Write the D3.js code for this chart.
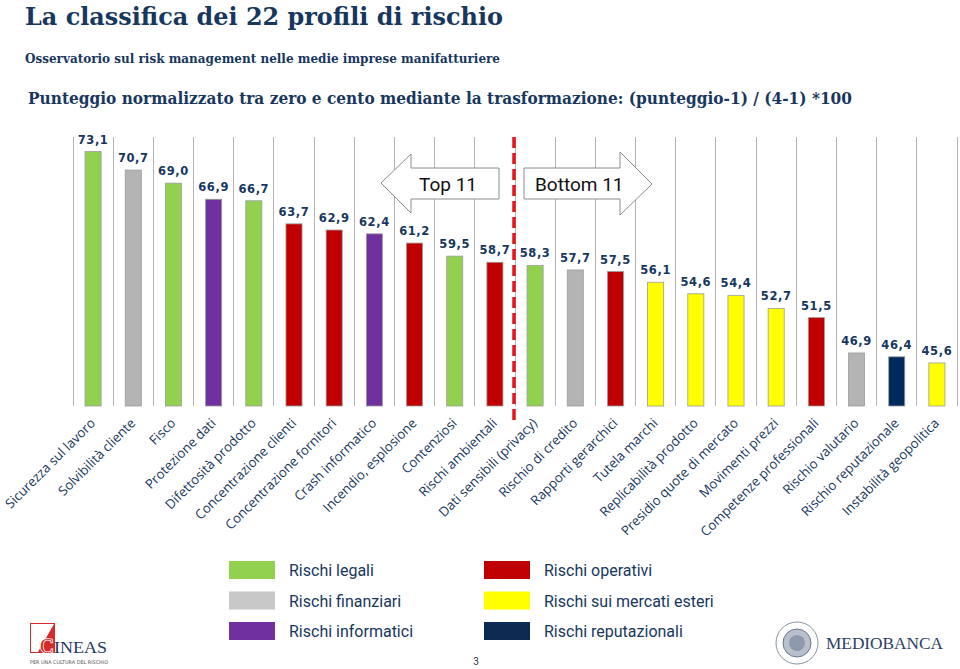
<!DOCTYPE html>
<html><head><meta charset="utf-8">
<script src="https://cdn.jsdelivr.net/npm/d3@7"></script>
<style>
html,body{margin:0;padding:0;background:#fff;}
svg{display:block;}
</style></head>
<body>
<script>
const categories = ["Sicurezza sul lavoro","Solvibilità cliente","Fisco","Protezione dati","Difettosità prodotto","Concentrazione clienti","Concentrazione fornitori","Crash informatico","Incendio, esplosione","Contenziosi","Rischi ambientali","Dati sensibili (privacy)","Rischio di credito","Rapporti gerarchici","Tutela marchi","Replicabilità prodotto","Presidio quote di mercato","Movimenti prezzi","Competenze professionali","Rischio valutario","Rischio reputazionale","Instabilità geopolitica"];
const values = [73.1,70.7,69.0,66.9,66.7,63.7,62.9,62.4,61.2,59.5,58.7,58.3,57.7,57.5,56.1,54.6,54.4,52.7,51.5,46.9,46.4,45.6];
const groups = ["legali","finanziari","legali","informatici","legali","operativi","operativi","informatici","operativi","legali","operativi","legali","finanziari","operativi","esteri","esteri","esteri","esteri","operativi","finanziari","reputazionali","esteri"];
const groupKeys = ["legali","finanziari","informatici","operativi","esteri","reputazionali"];
const groupLabels = ["Rischi legali","Rischi finanziari","Rischi informatici","Rischi operativi","Rischi sui mercati esteri","Rischi reputazionali"];
const groupColors = ["#92d050","#b4b4b4","#7030a0","#c00000","#ffff00","#002a5c"];
const legendColors = ["#92d050","#c8c8c8","#7030a0","#c00000","#ffff00","#0d2a52"];
const topCount = 11;
const yDomain = [40, 75];

const W = 960, H = 669;
const navy = "#17375e";
const svg = d3.select("body").append("svg").attr("width", W).attr("height", H);

// Titles
svg.append("text").attr("x", 25).attr("y", 25)
  .attr("font-family", "'DejaVu Serif', serif").attr("font-weight", "bold")
  .attr("font-size", 24).attr("fill", navy)
  .attr("textLength", 478).attr("lengthAdjust", "spacingAndGlyphs")
  .text("La classifica dei 22 profili di rischio");
svg.append("text").attr("x", 25).attr("y", 63)
  .attr("font-family", "'DejaVu Serif', serif").attr("font-weight", "bold")
  .attr("font-size", 12).attr("fill", navy)
  .attr("textLength", 475).attr("lengthAdjust", "spacingAndGlyphs")
  .text("Osservatorio sul risk management nelle medie imprese manifatturiere");
svg.append("text").attr("x", 28).attr("y", 104)
  .attr("font-family", "'DejaVu Serif', serif").attr("font-weight", "bold")
  .attr("font-size", 16.5).attr("fill", navy)
  .attr("textLength", 824).attr("lengthAdjust", "spacingAndGlyphs")
  .text("Punteggio normalizzato tra zero e cento mediante la trasformazione: (punteggio-1) / (4-1) *100");

// Scales
const xOuter = d3.scaleBand().domain(categories).range([73, 957]).padding(0);
const x = d3.scaleBand().domain(categories).range([73, 957]).paddingInner(0.6).paddingOuter(0.3);
const y = d3.scaleLinear().domain(yDomain).range([406, 137]);
const color = d3.scaleOrdinal().domain(groupKeys).range(groupColors);

// Gridlines at band boundaries
const bounds = categories.map(c => xOuter(c)).concat([xOuter.range()[1]]);
svg.append("g").selectAll("line").data(bounds).join("line")
  .attr("x1", d => d).attr("x2", d => d)
  .attr("y1", y(yDomain[1])).attr("y2", y(yDomain[0]))
  .attr("stroke", "#b3b3b3").attr("stroke-width", 1).attr("shape-rendering", "crispEdges");

const data = categories.map((c, i) => ({c, v: values[i], g: groups[i]}));

// Bars
svg.append("g").selectAll("rect").data(data).join("rect")
  .attr("x", d => x(d.c)).attr("width", x.bandwidth())
  .attr("y", d => y(d.v)).attr("height", d => y(yDomain[0]) - y(d.v))
  .attr("fill", d => color(d.g)).attr("stroke", "#9c9c9c").attr("stroke-width", 0.8);

// Value labels
svg.append("g").selectAll("text").data(data).join("text")
  .attr("x", d => x(d.c) + x.bandwidth() / 2).attr("y", d => y(d.v) - 8)
  .attr("text-anchor", "middle")
  .attr("font-family", "'DejaVu Sans', Verdana, sans-serif").attr("font-weight", "bold")
  .attr("font-size", 11.5).attr("letter-spacing", 0.6).attr("fill", navy)
  .text(d => d3.format(".1f")(d.v).replace(".", ","));

// Category labels
svg.append("g").selectAll("text").data(data).join("text")
  .attr("transform", d => `translate(${x(d.c) + x.bandwidth() / 2 + 3},${424}) rotate(-45)`)
  .attr("text-anchor", "end")
  .attr("font-family", "'Open Sans', sans-serif").attr("font-size", 13.2).attr("fill", navy)
  .text(d => d.c);

// Dashed separator between Top 11 and Bottom 11
const sepX = xOuter(categories[topCount]) - 1;
svg.append("line").attr("x1", sepX).attr("x2", sepX).attr("y1", 137).attr("y2", 421)
  .attr("stroke", "#e8141c").attr("stroke-width", 3.5).attr("stroke-dasharray", "11,5");

// Arrows
const arrowG = svg.append("g");
arrowG.append("polygon")
  .attr("points", [[381,183],[411,154],[411,168],[499,168],[499,199],[411,199],[411,213]].map(p => p.join(",")).join(" "))
  .attr("fill", "#fff").attr("stroke", "#8c8c8c").attr("stroke-width", 1);
arrowG.append("text").attr("x", 448).attr("y", 191).attr("text-anchor", "middle")
  .attr("font-family", "Roboto, sans-serif").attr("font-size", 19).attr("fill", "#111").text("Top 11");
arrowG.append("polygon")
  .attr("points", [[524,168],[620,168],[620,152],[652,184],[620,215],[620,199],[524,199]].map(p => p.join(",")).join(" "))
  .attr("fill", "#fff").attr("stroke", "#8c8c8c").attr("stroke-width", 1);
arrowG.append("text").attr("x", 535).attr("y", 191)
  .attr("font-family", "Roboto, sans-serif").attr("font-size", 19).attr("fill", "#111").text("Bottom 11");

// Legend
const legend = svg.append("g");
groupLabels.forEach((lab, i) => {
  const col = Math.floor(i / 3), row = i % 3;
  const lx = col === 0 ? 229 : 484;
  const ly = 561 + row * 30.5;
  legend.append("rect").attr("x", lx).attr("y", ly).attr("width", 46).attr("height", 18)
    .attr("fill", legendColors[i]);
  legend.append("text").attr("x", lx + 60).attr("y", ly + 15)
    .attr("font-family", "Roboto, sans-serif").attr("font-size", 16).attr("fill", navy)
    .text(lab);
});

// Page number
svg.append("text").attr("x", 476).attr("y", 665).attr("text-anchor", "middle")
  .attr("font-family", "Roboto, sans-serif").attr("font-size", 10).attr("fill", "#333").text("3");

// CINEAS logo
const cin = svg.append("g");
cin.append("rect").attr("x", 30.5).attr("y", 623.5).attr("width", 24).attr("height", 29)
  .attr("fill", "none").attr("stroke", "#d42a2a").attr("stroke-width", 1);
cin.append("polygon").attr("points", "54,624 54,652 38,652").attr("fill", "#d42a2a");
cin.append("text").attr("x", 40).attr("y", 653)
  .attr("font-family", "'Liberation Serif', serif").attr("font-size", 20).attr("fill", "#d42a2a")
  .attr("stroke", "#fff").attr("stroke-width", 1.5).attr("paint-order", "stroke").text("C");
cin.append("text").attr("x", 54).attr("y", 653)
  .attr("font-family", "'Liberation Serif', serif").attr("font-size", 16).attr("fill", "#1f3864")
  .attr("textLength", 53).attr("lengthAdjust", "spacingAndGlyphs").text("INEAS");
cin.append("text").attr("x", 30).attr("y", 664)
  .attr("font-family", "'DejaVu Sans', sans-serif").attr("font-size", 5).attr("fill", "#555")
  .attr("textLength", 78).attr("lengthAdjust", "spacingAndGlyphs").text("PER UNA CULTURA DEL RISCHIO");

// Mediobanca logo
const mb = svg.append("g");
mb.append("circle").attr("cx", 797).attr("cy", 643).attr("r", 21).attr("fill", "none").attr("stroke", "#8a95a8").attr("stroke-width", 1);
mb.append("circle").attr("cx", 797).attr("cy", 643).attr("r", 14).attr("fill", "#b8c0cc").attr("stroke", "#6c7890").attr("stroke-width", 1);
mb.append("circle").attr("cx", 797).attr("cy", 643).attr("r", 8).attr("fill", "#8e99ad");
mb.append("text").attr("x", 826).attr("y", 649)
  .attr("font-family", "'Liberation Serif', serif").attr("font-size", 17).attr("fill", "#2a3f66")
  .attr("textLength", 117).attr("lengthAdjust", "spacingAndGlyphs").text("MEDIOBANCA");
</script>
</body></html>
